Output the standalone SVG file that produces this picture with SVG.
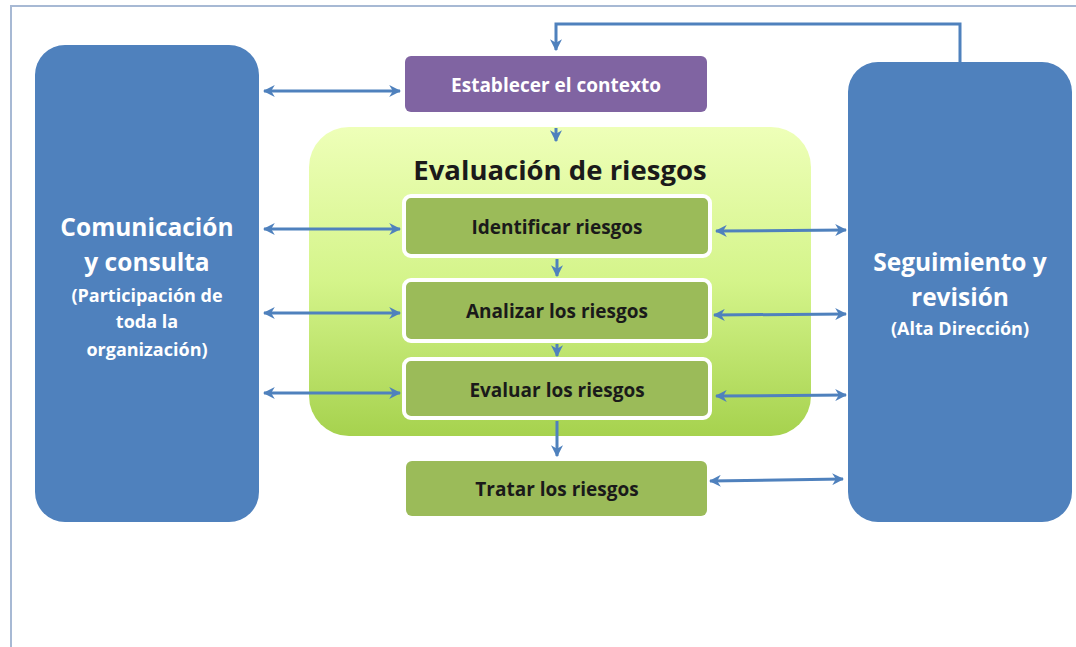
<svg xmlns="http://www.w3.org/2000/svg" width="1076" height="647" viewBox="0 0 1076 647">
<defs>
<linearGradient id="gEval" x1="0" y1="0" x2="0" y2="1">
<stop offset="0" stop-color="#EEFFB8"/>
<stop offset="0.5" stop-color="#D4F48A"/>
<stop offset="1" stop-color="#A6D24E"/>
</linearGradient>
<marker id="ah" viewBox="0 0 10 10" refX="9" refY="5" markerWidth="4" markerHeight="4" orient="auto-start-reverse" markerUnits="strokeWidth">
<path d="M0,0 L10,5 L0,10 L3,5 Z" fill="#4F81BD"/>
</marker>
<style>
.side{fill:#4F81BD}
.step{fill:#9BBB59;stroke:#FFFFFF;stroke-width:4}
.tr{fill:#9BBB59}
.con{stroke:#4F81BD;stroke-width:3;fill:none}
.t{font-family:"Open Sans","Liberation Sans",sans-serif;font-weight:bold;text-anchor:middle}
.w{fill:#FFFFFF}
.k{fill:#1A1A1A}
</style>
</defs>
<rect width="1076" height="647" fill="#FFFFFF"/>
<path d="M11,647 V6 H1076" fill="none" stroke="#A7B9D4" stroke-width="2"/>

<g id="comunicacion">
<rect class="side" x="35" y="45" width="224" height="477" rx="30"/>
<text class="t w" x="147" y="236" font-size="24.5">Comunicación</text>
<text class="t w" x="147" y="271" font-size="24.5">y consulta</text>
<text class="t w" x="147" y="302" font-size="18">(Participación de</text>
<text class="t w" x="147" y="328" font-size="18">toda la</text>
<text class="t w" x="147" y="356" font-size="18">organización)</text>
</g>

<g id="seguimiento">
<rect class="side" x="848" y="62" width="224" height="460" rx="30"/>
<text class="t w" x="960" y="271" font-size="24.5">Seguimiento y</text>
<text class="t w" x="960" y="306" font-size="24.5">revisión</text>
<text class="t w" x="960" y="335" font-size="18">(Alta Dirección)</text>
</g>

<g id="contexto">
<rect x="405" y="56" width="302" height="56" rx="6" fill="#8064A2"/>
<text class="t w" x="556" y="92" font-size="19">Establecer el contexto</text>
</g>

<g id="evaluacion">
<rect x="309" y="127" width="502" height="309" rx="40" fill="url(#gEval)"/>
<text class="t k" x="560" y="180" font-size="27.5" font-weight="600">Evaluación de riesgos</text>
</g>

<g id="identificar">
<rect class="step" x="404" y="196" width="306" height="60" rx="7"/>
<text class="t k" x="557" y="234" font-size="19">Identificar riesgos</text>
</g>

<g id="analizar">
<rect class="step" x="404" y="280" width="306" height="61" rx="7"/>
<text class="t k" x="557" y="318" font-size="19">Analizar los riesgos</text>
</g>

<g id="evaluar">
<rect class="step" x="404" y="359" width="306" height="59" rx="7"/>
<text class="t k" x="557" y="397" font-size="19">Evaluar los riesgos</text>
</g>

<g id="tratar">
<rect class="tr" x="406" y="461" width="301" height="55" rx="6"/>
<text class="t k" x="557" y="496" font-size="19">Tratar los riesgos</text>
</g>

<g id="connectors">
<path class="con" d="M960,62 V24 H556 V50" marker-end="url(#ah)"/>
<path class="con" d="M264,91 H400" marker-start="url(#ah)" marker-end="url(#ah)"/>
<path class="con" d="M264,229 H400" marker-start="url(#ah)" marker-end="url(#ah)"/>
<path class="con" d="M264,313 H400" marker-start="url(#ah)" marker-end="url(#ah)"/>
<path class="con" d="M264,393 H400" marker-start="url(#ah)" marker-end="url(#ah)"/>
<path class="con" d="M716,231 L846,230" marker-start="url(#ah)" marker-end="url(#ah)"/>
<path class="con" d="M714,315 L846,314" marker-start="url(#ah)" marker-end="url(#ah)"/>
<path class="con" d="M716,396 L846,395" marker-start="url(#ah)" marker-end="url(#ah)"/>
<path class="con" d="M710,481 L843,479" marker-start="url(#ah)" marker-end="url(#ah)"/>
<path class="con" d="M556,128 V141" marker-end="url(#ah)"/>
<path class="con" d="M557,259 V276" marker-end="url(#ah)"/>
<path class="con" d="M557,344 V356" marker-end="url(#ah)"/>
<path class="con" d="M557,421 V456" marker-end="url(#ah)"/>
</g>
</svg>
